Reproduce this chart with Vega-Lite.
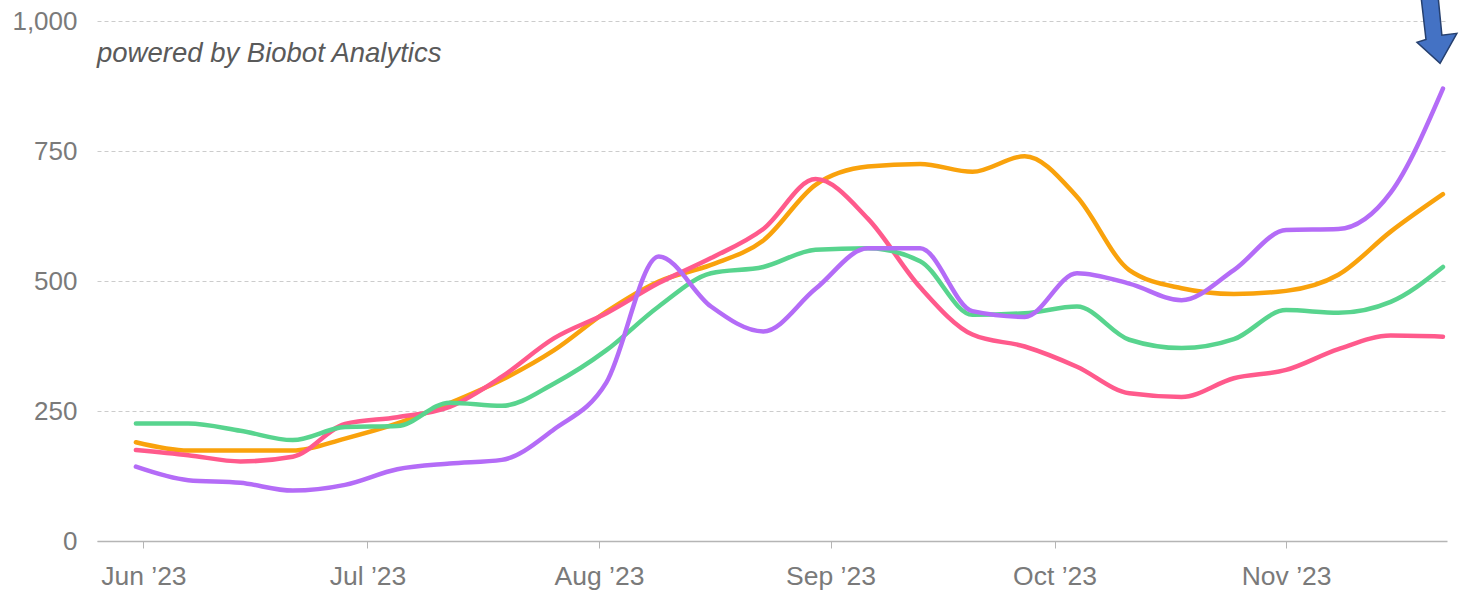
{
  "$schema": "https://vega.github.io/schema/vega-lite/v6.json",
  "width": 1350,
  "height": 520,
  "autosize": {"type": "none"},
  "padding": {"left": 97, "top": 21, "right": 13, "bottom": 58},
  "background": "white",
  "config": {"view": {"stroke": null}, "font": "Liberation Sans"},
  "datasets": {
    "levels": [
      {"date": "2023-05-31T00:00:00", "South": 190, "Northeast": 175, "West": 226, "Midwest": 143},
      {"date": "2023-06-07T00:00:00", "South": 174, "Northeast": 165, "West": 226, "Midwest": 117},
      {"date": "2023-06-14T00:00:00", "South": 174, "Northeast": 153, "West": 212, "Midwest": 112},
      {"date": "2023-06-21T00:00:00", "South": 174, "Northeast": 162, "West": 194, "Midwest": 97},
      {"date": "2023-06-28T00:00:00", "South": 197, "Northeast": 225, "West": 219, "Midwest": 108},
      {"date": "2023-07-05T00:00:00", "South": 226, "Northeast": 238, "West": 221, "Midwest": 138},
      {"date": "2023-07-12T00:00:00", "South": 265, "Northeast": 258, "West": 266, "Midwest": 149},
      {"date": "2023-07-19T00:00:00", "South": 310, "Northeast": 316, "West": 260, "Midwest": 156},
      {"date": "2023-07-26T00:00:00", "South": 367, "Northeast": 390, "West": 303, "Midwest": 215},
      {"date": "2023-08-02T00:00:00", "South": 441, "Northeast": 438, "West": 367, "Midwest": 305},
      {"date": "2023-08-09T00:00:00", "South": 499, "Northeast": 496, "West": 451, "Midwest": 547},
      {"date": "2023-08-16T00:00:00", "South": 531, "Northeast": 544, "West": 515, "Midwest": 451},
      {"date": "2023-08-23T00:00:00", "South": 578, "Northeast": 600, "West": 527, "Midwest": 403},
      {"date": "2023-08-30T00:00:00", "South": 685, "Northeast": 696, "West": 560, "Midwest": 485},
      {"date": "2023-09-06T00:00:00", "South": 720, "Northeast": 620, "West": 563, "Midwest": 563},
      {"date": "2023-09-13T00:00:00", "South": 725, "Northeast": 488, "West": 538, "Midwest": 563},
      {"date": "2023-09-20T00:00:00", "South": 710, "Northeast": 397, "West": 435, "Midwest": 442},
      {"date": "2023-09-27T00:00:00", "South": 740, "Northeast": 374, "West": 438, "Midwest": 431},
      {"date": "2023-10-04T00:00:00", "South": 662, "Northeast": 335, "West": 451, "Midwest": 515},
      {"date": "2023-10-11T00:00:00", "South": 521, "Northeast": 284, "West": 387, "Midwest": 495},
      {"date": "2023-10-18T00:00:00", "South": 486, "Northeast": 277, "West": 371, "Midwest": 463},
      {"date": "2023-10-25T00:00:00", "South": 475, "Northeast": 313, "West": 388, "Midwest": 521},
      {"date": "2023-11-01T00:00:00", "South": 481, "Northeast": 329, "West": 444, "Midwest": 598},
      {"date": "2023-11-08T00:00:00", "South": 512, "Northeast": 369, "West": 439, "Midwest": 600},
      {"date": "2023-11-15T00:00:00", "South": 595, "Northeast": 395, "West": 460, "Midwest": 670},
      {"date": "2023-11-22T00:00:00", "South": 667, "Northeast": 393, "West": 527, "Midwest": 870}
    ],
    "notes": [
      {"text": "powered by Biobot Analytics"}
    ]
  },
  "layer": [
    {
      "data": {"name": "levels"},
      "transform": [{"fold": ["South", "Northeast", "West", "Midwest"], "as": ["region", "value"]}],
      "mark": {"type": "line", "interpolate": "monotone", "strokeWidth": 4.5, "strokeCap": "round", "strokeJoin": "round"},
      "encoding": {
        "x": {
          "field": "date",
          "type": "temporal",
          "scale": {"domain": [{"year": 2023, "month": 5, "date": 25, "hours": 19}, {"year": 2023, "month": 11, "date": 22, "hours": 13}]},
          "axis": {
            "title": null,
            "format": "%b ’%y",
            "tickCount": {"interval": "month", "step": 1},
            "grid": false,
            "labelFontSize": 26.5,
            "labelColor": "#7a7a7a",
            "domainColor": "#b5b5b5",
            "domainWidth": 1.5,
            "tickColor": "#b5b5b5",
            "tickSize": 7,
            "labelPadding": 15,
            "labelFlush": false
          }
        },
        "y": {
          "field": "value",
          "type": "quantitative",
          "scale": {"domain": [0, 1000]},
          "axis": {
            "title": null,
            "values": [0, 250, 500, 750, 1000],
            "format": ",d",
            "domain": false,
            "ticks": false,
            "labelPadding": 20,
            "grid": true,
            "gridDash": [4, 3],
            "gridColor": "#cccccc",
            "labelFontSize": 26,
            "labelColor": "#7a7a7a"
          }
        },
        "color": {
          "field": "region",
          "type": "nominal",
          "sort": ["South", "Northeast", "West", "Midwest"],
          "scale": {"domain": ["South", "Northeast", "West", "Midwest"], "range": ["#F9A20C", "#FF5A8C", "#58D48E", "#B46CF7"]},
          "legend": null
        }
      }
    },
    {
      "data": {"name": "notes"},
      "mark": {"type": "text", "align": "left", "baseline": "alphabetic", "fontStyle": "italic", "fontSize": 27.5, "color": "#5a5a5a"},
      "encoding": {
        "text": {"field": "text"},
        "x": {"datum": {"year": 2023, "month": 5, "date": 25, "hours": 19}, "type": "temporal"},
        "y": {"datum": 921, "type": "quantitative"}
      }
    },
    {
      "data": {"name": "notes"},
      "mark": {"type": "point", "shape": "M-0.57,-1.1L0,-1.1L0.13,0.23L0.63,0.17L0.07,1.17L-0.7,0.47L-0.4,0.37Z", "size": 3600, "filled": true, "fill": "#4472C4", "stroke": "#26406F", "strokeWidth": 1.5, "opacity": 1},
      "encoding": {
        "x": {"datum": {"year": 2023, "month": 11, "date": 21, "hours": 8}, "type": "temporal"},
        "y": {"datum": 986, "type": "quantitative"}
      }
    }
  ]
}
